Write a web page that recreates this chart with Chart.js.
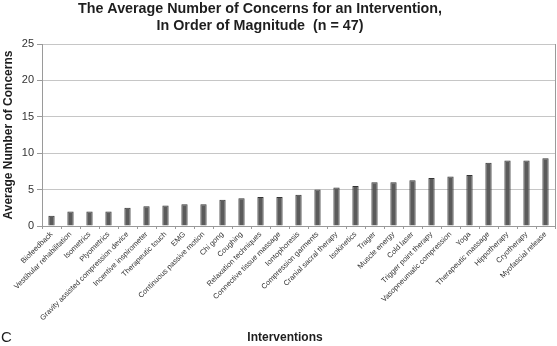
<!DOCTYPE html>
<html>
<head>
<meta charset="utf-8">
<script src="https://cdn.jsdelivr.net/npm/chart.js@4"></script>
<style>
  body { margin: 0; background: #fff; }
  canvas { display: block; }
</style>
</head>
<body>
<canvas id="concerns" width="557" height="346"></canvas>
<script>
// Interventions, sorted by average number of concerns
const interventions = [
    "Biofeedback", "Vestibular rehabilitation", "Isometrics", "Plyometrics",
    "Gravity assisted compression device", "Incentive inspirometer", "Therapeutic touch",
    "EMG", "Continuous passive motion", "Chi gong", "Coughing", "Relaxation techniques",
    "Connective tissue massage", "Iontophoresis", "Compression garments",
    "Cranial sacral therapy", "Isokinetics", "Trager", "Muscle energy", "Cold laser",
    "Trigger point therapy", "Vasopneumatic compression", "Yoga", "Therapeutic massage",
    "Hippotherapy", "Cryotherapy", "Myofascial release"
];
const averageConcerns = [
    1.4, 2.0, 2.0, 2.0, 2.5, 2.7, 2.8, 3.0, 3.0, 3.6, 3.8, 4.0, 4.0, 4.3,
    5.0, 5.3, 5.5, 6.0, 6.0, 6.3, 6.6, 6.8, 7.0, 8.7, 9.0, 9.0, 9.3
];
const yTicks = [0, 5, 10, 15, 20, 25];

const titleLines = ["The Average Number of Concerns for an Intervention,", "In Order of Magnitude  (n = 47)"];
const xTitle = "Interventions";
const yTitle = "Average Number of Concerns";
const panelLetter = "C";

const FONT = "'Liberation Sans', Arial, Helvetica, sans-serif";

// Title, x-axis title, panel letter and right-hand frame line
const decorations = {
    id: "decorations",
    afterDraw(chart) {
        const ctx = chart.ctx;
        const area = chart.chartArea;
        ctx.save();
        ctx.strokeStyle = "#9a9a9a";
        ctx.lineWidth = 1;
        ctx.beginPath();
        ctx.moveTo(area.right + 0.5, area.top);
        ctx.lineTo(area.right + 0.5, area.bottom);
        ctx.stroke();

        ctx.fillStyle = "#1e1e1e";
        ctx.textAlign = "center";
        ctx.textBaseline = "middle";
        ctx.font = "bold 14.3px " + FONT;
        titleLines.forEach((line, i) => ctx.fillText(line, 260, 9.5 + i * 17));

        ctx.font = "bold 12px " + FONT;
        ctx.fillText(xTitle, 285, 338);

        ctx.textAlign = "left";
        ctx.font = "15px " + FONT;
        ctx.fillText(panelLetter, 1, 338);
        ctx.restore();
    }
};

new Chart(document.getElementById("concerns").getContext("2d"), {
    type: "bar",
    data: {
        labels: interventions,
        datasets: [{
            data: averageConcerns,
            backgroundColor: "#5b5b5b",
            borderColor: "#353535",
            borderWidth: 1,
            barPercentage: 0.33,
            categoryPercentage: 1.0
        }]
    },
    options: {
        responsive: false,
        animation: false,
        layout: { padding: { top: 44, right: 2, left: 0, bottom: 0 } },
        plugins: {
            legend: { display: false },
            tooltip: { enabled: false }
        },
        scales: {
            x: {
                offset: true,
                grid: {
                    offset: true,
                    drawOnChartArea: false,
                    drawTicks: true,
                    tickLength: 3,
                    color: "#9a9a9a"
                },
                border: { color: "#9a9a9a" },
                ticks: {
                    autoSkip: false,
                    minRotation: 45,
                    maxRotation: 45,
                    padding: 1,
                    color: "#333",
                    font: { family: FONT, size: 7.5 }
                },
                afterFit(scale) { scale.height = 120; }
            },
            y: {
                min: 0,
                max: 25,
                afterBuildTicks(scale) { scale.ticks = yTicks.map(v => ({ value: v })); },
                grid: {
                    color: "#c6c6c6",
                    tickColor: "#9a9a9a",
                    tickLength: 5
                },
                border: { color: "#9a9a9a" },
                ticks: {
                    padding: 3,
                    color: "#333",
                    font: { family: FONT, size: 11 }
                },
                title: {
                    display: true,
                    text: yTitle,
                    color: "#1e1e1e",
                    padding: { top: 1, bottom: 0 },
                    font: { family: FONT, size: 12, weight: "bold" }
                },
                afterFit(scale) { scale.width = 42; }
            }
        }
    },
    plugins: [decorations]
});
</script>
</body>
</html>
